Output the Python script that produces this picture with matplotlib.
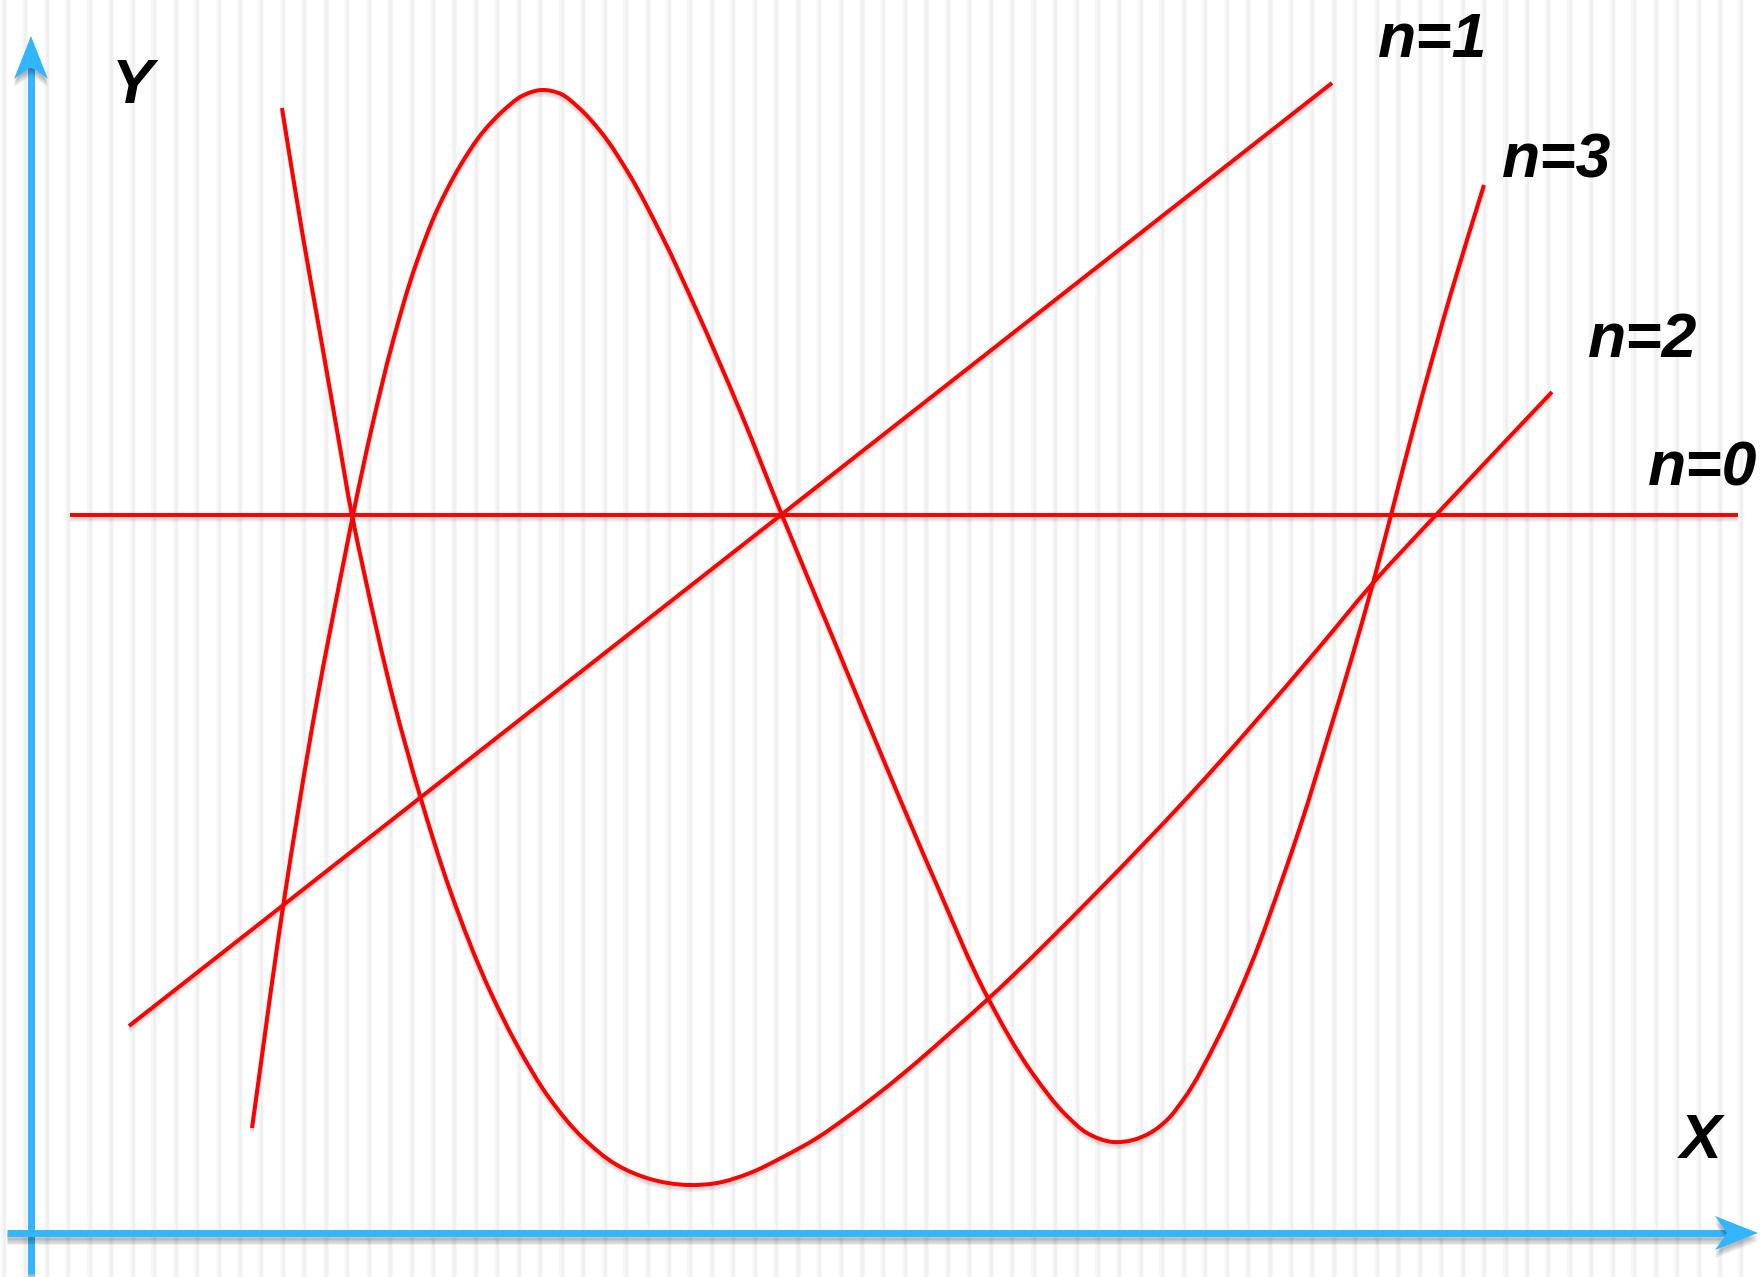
import matplotlib
matplotlib.use("Agg")
import matplotlib.pyplot as plt
import matplotlib.patheffects as pe
from matplotlib.patches import Polygon, PathPatch
from matplotlib.path import Path
import numpy as np

plt.rcParams["font.family"] = ["Liberation Sans", "DejaVu Sans"]

# curve samples, in axis units (origin where the X and Y axes cross)
n0_x = [0.39, 17.07]
n0_y = [7.18, 7.18]

n1_x = [0.98, 13.01]
n1_y = [2.07, 11.50]

n2_x = [2.51, 2.71, 2.89, 3.06, 3.21, 3.33, 3.62, 3.90, 4.19, 4.60, 4.86,
        5.19, 5.52, 5.86, 6.19, 6.57, 6.86, 7.19, 7.52, 7.86, 8.19, 8.52,
        8.86, 9.19, 9.57, 10.69, 11.56, 12.86, 13.42, 14.04, 15.21]
n2_y = [11.25, 10.02, 9.00, 8.03, 7.18, 6.61, 5.35, 4.34, 3.43, 2.40, 1.88,
        1.34, 0.95, 0.68, 0.54, 0.48, 0.50, 0.60, 0.76, 0.95, 1.18, 1.43,
        1.71, 2.00, 2.34, 3.44, 4.35, 5.83, 6.50, 7.17, 8.41]

n3_x = [2.21, 2.52, 2.86, 3.13, 3.22, 3.40, 3.62, 3.84, 4.07, 4.29, 4.52,
        4.74, 4.91, 5.11, 5.30, 5.47, 5.70, 5.98, 6.31, 6.65, 7.10, 7.51,
        8.02, 8.53, 9.05, 9.57, 10.02, 10.36, 10.56, 10.82, 11.02, 11.19,
        11.36, 11.52, 11.86, 12.19, 12.52, 12.69, 12.99, 13.21, 13.42,
        13.60, 13.87, 14.20, 14.53]
n3_y = [1.05, 3.26, 5.33, 6.73, 7.18, 8.02, 8.92, 9.66, 10.25, 10.67, 11.01,
        11.24, 11.37, 11.43, 11.39, 11.26, 11.01, 10.59, 9.97, 9.24, 8.20,
        7.18, 5.95, 4.72, 3.50, 2.35, 1.59, 1.17, 1.00, 0.91, 0.93, 1.00,
        1.13, 1.33, 1.93, 2.66, 3.56, 4.06, 5.03, 5.76, 6.50, 7.18, 8.22,
        9.40, 10.48]

curve_names = ["n=0", "n=1", "n=2", "n=3"]
name_x = [16.17, 13.47, 15.57, 14.71]
name_y = [7.48, 11.76, 8.76, 10.56]

# axis extents
x_axis = (-0.24, 17.27)
y_axis = (-0.41, 11.97)

RED = "#ff0000"
BLUE = "#33b5ff"


def shadow(alpha, offsets):
    effects = [pe.SimpleLineShadow(offset=(0, -o), shadow_color="k", alpha=alpha)
               for o in offsets]
    return effects + [pe.Normal()]


def patch_shadow(alpha, offsets):
    effects = [pe.SimplePatchShadow(offset=(0, -o), shadow_rgbFace="k", alpha=alpha)
               for o in offsets]
    return effects + [pe.Normal()]


def smooth_path(xs, ys):
    # cubic Bezier through the samples, tangents from chord-length weighted
    # neighbour differences so uneven spacing does not wobble
    p = np.column_stack([xs, ys]).astype(float)
    seg = np.diff(p, axis=0)
    h = np.hypot(seg[:, 0], seg[:, 1])
    slope = seg / h[:, None]
    m = np.empty_like(p)
    m[0], m[-1] = slope[0], slope[-1]
    if len(p) > 2:
        w0, w1 = h[:-1, None], h[1:, None]
        m[1:-1] = (slope[:-1] * w1 + slope[1:] * w0) / (w0 + w1)
    verts = [p[0]]
    for i in range(len(p) - 1):
        verts += [p[i] + m[i] * h[i] / 3, p[i + 1] - m[i + 1] * h[i] / 3, p[i + 1]]
    codes = [Path.MOVETO] + [Path.CURVE4] * (3 * (len(p) - 1))
    return Path(verts, codes)


def axis_arrow(ax, start, end):
    start = np.asarray(start, float)
    tip = np.asarray(end, float)
    d = (tip - start) / np.hypot(*(tip - start))
    nrm = np.array([-d[1], d[0]])
    back = tip - 0.43 * d
    notch = tip - 0.31 * d
    ax.plot([start[0], notch[0]], [start[1], notch[1]], color=BLUE, lw=5,
            solid_capstyle="butt", zorder=2,
            path_effects=shadow(0.06, (2, 3, 4, 5, 6)))
    head = Polygon([tip, back + 0.17 * nrm, notch, back - 0.17 * nrm],
                   closed=True, facecolor=BLUE, edgecolor="none", zorder=2,
                   path_effects=patch_shadow(0.06, (2, 3, 4, 5, 6)))
    ax.add_patch(head)


fig = plt.figure(figsize=(17.6, 12.77), dpi=100)
ax = fig.add_axes([0, 0, 1, 1])
ax.set_xlim(-0.31, 17.29)
ax.set_ylim(-0.44, 12.33)
ax.axis("off")

# pinstripe background
for sx in np.arange(-0.27, 17.3, 0.2145):
    ax.axvline(sx, color="#f8f8f8", lw=4.5, zorder=0)
    ax.axvline(sx, color="#efefef", lw=1.8, zorder=0)

axis_arrow(ax, (0, y_axis[0]), (0, y_axis[1]))
axis_arrow(ax, (x_axis[0], 0), (x_axis[1], 0))

for xs, ys in [(n0_x, n0_y), (n1_x, n1_y), (n2_x, n2_y), (n3_x, n3_y)]:
    curve = PathPatch(smooth_path(xs, ys), fill=False, edgecolor=RED, lw=2.9,
                      capstyle="butt", joinstyle="round", zorder=3,
                      path_effects=shadow(0.05, (1.5, 2.5, 3.5)))
    ax.add_patch(curve)

label_style = dict(fontsize=45, fontweight="bold", fontstyle="italic",
                   color="black", ha="left", va="baseline", zorder=4)
for name, lx, ly in zip(curve_names, name_x, name_y):
    ax.text(lx, ly, name, **label_style)

ax.text(0.81, 11.30, "Y", **label_style)
ax.text(16.49, 0.75, "X", **label_style)

fig.savefig("out.png", dpi=100)
